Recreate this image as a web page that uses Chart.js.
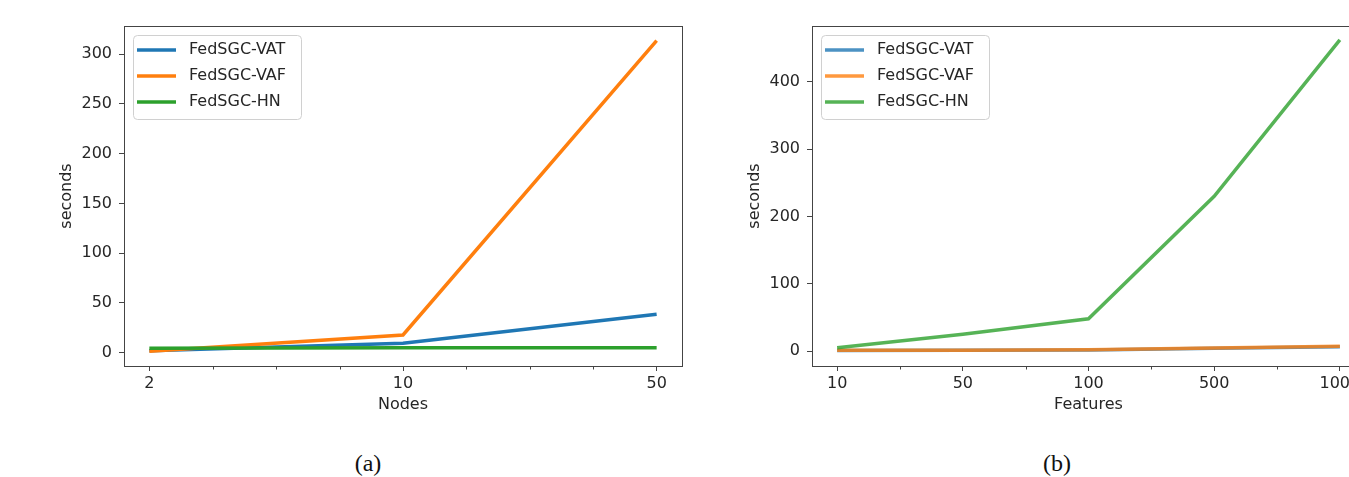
<!DOCTYPE html>
<html>
<head>
<meta charset="utf-8">
<script src="https://cdn.jsdelivr.net/npm/chart.js@4/dist/chart.umd.min.js"></script>
<style>
  body { margin: 0; background: #fff; overflow: hidden; }
  #page { position: relative; width: 1349px; height: 477px; overflow: hidden; }
  canvas { position: absolute; top: 0; }
  #chartA { left: 0; }
  #chartB { left: 700px; }
  .cap { position: absolute; top: 449px; line-height: 28px; font-family: "Liberation Serif", serif;
         font-size: 24px; color: #111; transform: translateX(-50%); }
</style>
</head>
<body>
<div id="page">
  <canvas id="chartA" width="700" height="414"></canvas>
  <canvas id="chartB" width="680" height="414"></canvas>
  <div class="cap" style="left:368px">(a)</div>
  <div class="cap" style="left:1057px">(b)</div>
</div>
<script>
var names = ['FedSGC-VAT', 'FedSGC-VAF', 'FedSGC-HN'];

// (a) time vs number of nodes
var nodes = ['2', '10', '50'];
var nodesVAT = [2, 9.4, 38.6];
var nodesVAF = [1.5, 17.8, 313.6];
var nodesHN = [4.5, 5, 5];
var nodesYTicks = [0, 50, 100, 150, 200, 250, 300];

// (b) time vs number of features
var features = ['10', '50', '100', '500', '1000'];
var featVAT = [0.8, 1, 1.5, 4, 6.5];
var featVAF = [1, 1.2, 2, 4.5, 7];
var featHN = [5, 24.8, 48, 230, 462.5];
var featYTicks = [0, 100, 200, 300, 400];

Chart.defaults.font.family = '"DejaVu Sans", sans-serif';
Chart.defaults.font.size = 16;
Chart.defaults.color = '#262626';

var rgb = ['31,119,180', '255,127,14', '44,160,44'];

function pts(vals) {
    return vals.map(function (v, i) { return {x: i, y: v}; });
}

// axes box, minor ticks and the legend inside the plot
var framePlugin = {
    id: 'frame',
    afterDraw: function (chart, args, opts) {
        var ctx = chart.ctx, a = chart.chartArea, xs = chart.scales.x;
        ctx.save();
        ctx.strokeStyle = '#444';
        ctx.lineWidth = 1;
        ctx.strokeRect(Math.round(a.left) + 0.5, Math.round(a.top) + 0.5,
            Math.round(a.right - a.left), Math.round(a.bottom - a.top));
        opts.minor.forEach(function (m) {
            var px = Math.round(xs.getPixelForValue(m)) + 0.5;
            ctx.beginPath();
            ctx.moveTo(px, a.bottom);
            ctx.lineTo(px, a.bottom + 3.5);
            ctx.stroke();
        });

        var bx = a.left + 9, by = a.top + 9;
        ctx.beginPath();
        ctx.roundRect(bx + 0.5, by + 0.5, 168, 84, 4);
        ctx.fillStyle = 'rgba(255,255,255,0.8)';
        ctx.fill();
        ctx.strokeStyle = '#d0d0d0';
        ctx.stroke();
        ctx.font = '16px "DejaVu Sans"';
        ctx.textBaseline = 'middle';
        chart.data.datasets.forEach(function (ds, i) {
            var y = by + 15 + i * 26;
            ctx.strokeStyle = ds.borderColor;
            ctx.lineWidth = 3.5;
            ctx.beginPath();
            ctx.moveTo(bx + 4, y);
            ctx.lineTo(bx + 43, y);
            ctx.stroke();
            ctx.fillStyle = '#262626';
            ctx.fillText(ds.label, bx + 56, y);
        });
        ctx.restore();
    }
};

function makeChart(id, labels, series, yTicks, yMin, yMax, minor, xTitle, alpha, pad) {
    var n = labels.length - 1;
    return new Chart(document.getElementById(id), {
        type: 'line',
        data: {
            datasets: series.map(function (vals, i) {
                return {
                    label: names[i],
                    data: pts(vals),
                    borderColor: 'rgba(' + rgb[i] + ',' + alpha + ')',
                    borderWidth: 3.5,
                    pointRadius: 0,
                    tension: 0,
                    order: 3 - i
                };
            })
        },
        options: {
            responsive: false,
            animation: false,
            events: [],
            layout: {padding: pad},
            plugins: {
                legend: {display: false},
                tooltip: {enabled: false},
                frame: {minor: minor}
            },
            scales: {
                x: {
                    type: 'linear',
                    min: -n * 0.05,
                    max: n * 1.05,
                    afterBuildTicks: function (s) {
                        s.ticks = labels.map(function (l, i) { return {value: i}; });
                    },
                    afterFit: function (s) { s.height = 48; },
                    ticks: {
                        autoSkip: false,
                        maxRotation: 0,
                        padding: 3,
                        callback: function (v) { return labels[v]; }
                    },
                    grid: {drawOnChartArea: false, tickLength: 5, tickColor: '#444'},
                    border: {display: false},
                    title: {display: true, text: xTitle, padding: 0}
                },
                y: {
                    min: yMin,
                    max: yMax,
                    afterBuildTicks: function (s) {
                        s.ticks = yTicks.map(function (v) { return {value: v}; });
                    },
                    afterFit: function (s) { s.width = 67; },
                    ticks: {padding: 7},
                    grid: {drawOnChartArea: false, tickLength: 5, tickColor: '#444'},
                    border: {display: false},
                    title: {display: true, text: 'seconds', padding: 0}
                }
            }
        },
        plugins: [framePlugin]
    });
}

makeChart('chartA', nodes, [nodesVAT, nodesVAF, nodesHN], nodesYTicks, -13.4, 328.3,
    [0.25, 0.5, 0.75, 1.25, 1.5, 1.75], 'Nodes', 1,
    {left: 57, top: 26, right: 18, bottom: 0});

makeChart('chartB', features, [featVAT, featVAF, featHN], featYTicks, -22.3, 483.2,
    [0.5, 1.5, 2.5, 3.5], 'Features', 0.8,
    {left: 45, top: 26, right: 15, bottom: 0});
</script>
</body>
</html>
